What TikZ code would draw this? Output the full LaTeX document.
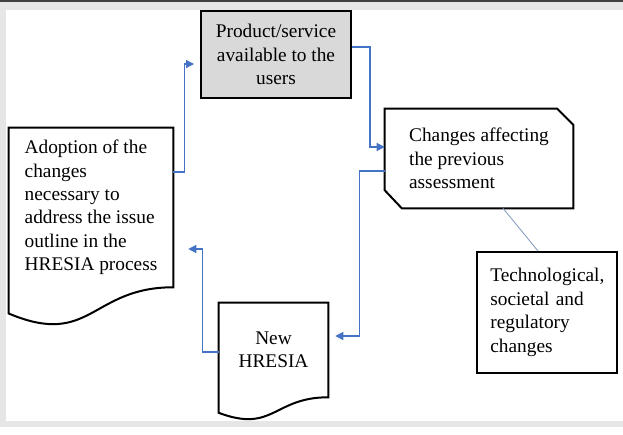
\documentclass[tikz,border=0pt]{standalone}
\usepackage{fontspec}
\setmainfont{Liberation Serif}
\usetikzlibrary{arrows.meta, calc}
\definecolor{flowblue}{HTML}{4472C4}
\definecolor{linkblue}{HTML}{7F97BC}
\definecolor{boxgray}{HTML}{D9D9D9}
\definecolor{pagegray}{HTML}{E6E6E6}
\tikzset{
	procbox/.style={draw=black, line width=1.5pt, inner sep=3pt},
	plainbox/.style={draw=none, inner sep=3pt},
	outline/.style={draw=black, line width=1.5pt, line join=miter},
	flow/.style={draw=flowblue, line width=0.9pt, ->},
	link/.style={draw=linkblue, line width=0.6pt}
}
% document shape: wavy bottom below the node box
\newcommand{\docoutline}[1]{%
	\draw[outline] (#1.north west) -- (#1.north east) -- (#1.south east)
		.. controls (#1.south) and ($(#1.south)!-0.3815!(#1.north)$) .. ($(#1.south west)!-0.1646!(#1.north west)$) -- cycle;}
% box with two cut corners
\newcommand{\chamferoutline}[1]{%
	\draw[outline] (#1.north west) -- ($(#1.north east)+(-16,0)$) -- ($(#1.north east)+(0,16)$) -- (#1.south east)
		-- ($(#1.south west)+(17,0)$) -- ($(#1.south west)+(0,-18)$) -- cycle;}

\begin{document}
\begin{tikzpicture}[x=0.75pt, y=-0.75pt, >={Triangle[length=6pt,width=6pt]}, every node/.style={font=\fontsize{14.5}{17.6}\selectfont}]
	% page
	\fill[pagegray] (0,0) rectangle (623,427);
	\fill[black!75] (0,0) rectangle (623,1.7);
	\fill[white] (5.5,10) rectangle (623,420.5);
	% boxes
	\node[procbox, fill=boxgray, align=center, minimum width=112.5pt, minimum height=65.25pt] (product) at (276,54.5) {Product/service\\available to the\\users};
	\node[plainbox, align=left, minimum width=141pt, minimum height=74.25pt] (changes) at (479,158.5) {Changes affecting\\the previous\\assessment};
	\chamferoutline{changes}
	\node[procbox, align=left, inner xsep=10pt, text width=85pt, minimum height=90.75pt] (techno) at (547,312.5) {Technological,\\societal and\\regulatory\\changes};
	\node[plainbox, align=center, minimum width=81.75pt, minimum height=70.5pt] (newhresia) at (273.5,350) {New\\HRESIA};
	\docoutline{newhresia}
	\node[plainbox, align=left, minimum width=123pt, minimum height=119.25pt] (adoption) at (91,207.5) {Adoption of the\\changes\\necessary to\\address the issue\\outline in the\\HRESIA process};
	\docoutline{adoption}
	% arrow ends
	\coordinate (toproduct) at ($(product.west)+(-6,9.5)$);
	\coordinate (tonew) at ($(newhresia.east)+(7,-14)$);
	\coordinate (toadoption) at ($(adoption.east)+(15,41.5)$);
	% connectors
	\draw[flow] ($(adoption.east)+(0,-35.5)$) -- ++(11,0) |- (toproduct);
	\draw[flow] ($(product.east)+(0,-7.5)$) -- ++(18,0) |- ($(changes.west)+(0,-11.5)$);
	\draw[flow] ($(changes.west)+(0,12.5)$) -- ++(-25,0) |- (tonew);
	\draw[flow] ($(newhresia.west)+(0,2)$) -- ++(-16,0) |- (toadoption);
	\draw[link] ($(changes.south)+(24,0)$) -- ($(techno.north)+(-9,0)$);
\end{tikzpicture}
\end{document}
